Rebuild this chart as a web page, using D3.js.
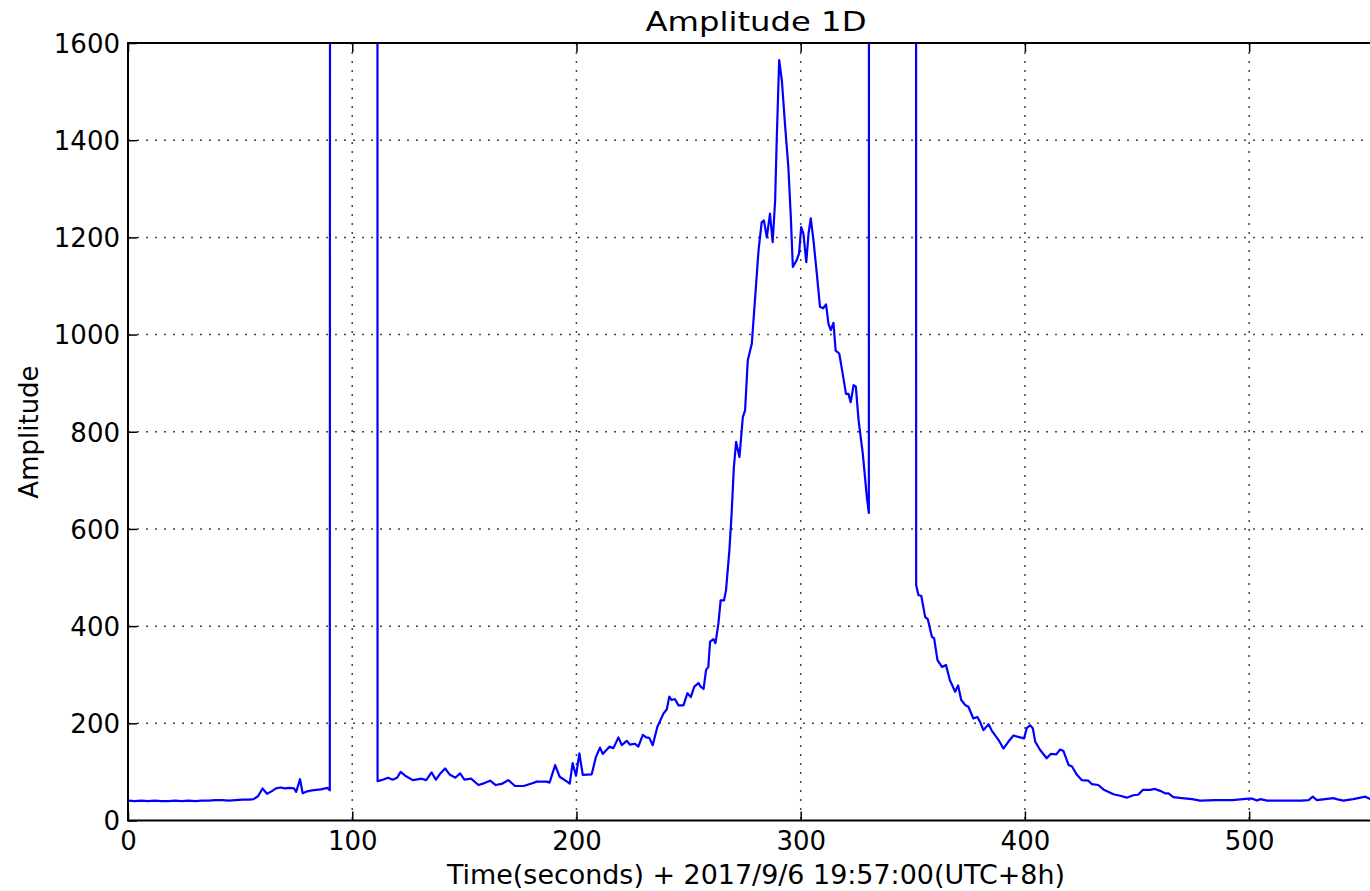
<!DOCTYPE html>
<html><head><meta charset="utf-8">
<script src="https://cdn.jsdelivr.net/npm/d3@7"></script>
<style>
html,body{margin:0;padding:0;background:#fff;overflow:hidden;}
text{font-family:"DejaVu Sans",sans-serif;fill:#000;}
</style></head>
<body>
<svg id="chart" width="1370" height="891"></svg>
<script>
const title = "Amplitude 1D";
const xLabel = "Time(seconds) + 2017/9/6 19:57:00(UTC+8h)";
const yLabel = "Amplitude";
const xTicks = [0, 100, 200, 300, 400, 500];
const yTicks = [0, 200, 400, 600, 800, 1000, 1200, 1400, 1600];

// time (s) and amplitude; 10000 = off-scale (saturated) samples
const times = [0,3,6,9,12,15,18,21,24,27,30,33,36,39,42,45,48,51,54,56,58,60,62,64,66,68,70,72,74,75,76.7,77.9,80,82,84,86,88,89,90,90.5,111,111.3,113,116,118,120,121.6,124,127,131,133,135.4,137.3,139,141.4,143.6,146,148.1,150,153,156.3,159,161.5,164,167,169.6,172.6,176.4,180,182.3,186.8,188,190.5,192.5,195.8,197,198.3,199.8,201.3,202.8,206.8,208.7,210.5,211.7,214.7,216.5,218.7,220.2,222.4,223.9,226.1,227.6,229.6,231.1,232.5,234,236.1,238.8,240.3,241.4,242.4,243.9,245.5,247.7,249.5,251,252.5,254.4,255.5,256.7,257.8,258.8,259.6,261.1,262,263.3,264.3,265.8,266.7,268.2,269.2,270.2,271.2,272.7,274.2,275.2,276.4,278.2,279.7,281.2,282.6,283.6,284.9,286.3,287.5,288.6,289.3,290.4,291.6,293.1,294.5,295.6,296.5,298.2,299.3,300.2,301.2,302.5,303.5,304.5,305.7,307.2,308.6,310,311.3,312.4,313.4,314.6,315.6,317.2,318.7,320.2,321.3,322.3,323.6,324.6,325.8,327.7,329.5,330.4,330.8,351.2,351.5,352.5,353.8,355.5,356.7,358.5,359.5,361,363,364.8,366.5,368.9,370.2,371.6,373.5,374.8,377,378.8,380,381.5,383.8,385.2,388.2,390.4,392.6,394.9,397,399.6,400.8,402.3,403.5,404.6,406.8,409.7,411.5,414,415.7,417.2,419.5,421,423.2,425.4,428.3,429.8,432.7,435,439.5,442.5,445.4,448.3,450.5,452.6,455.8,458,460.3,462.5,464,466.2,470,474.6,478.1,485,492.5,499.7,501.2,503.5,505,508,515,523,526.5,528.4,530.2,537.6,539,542,546.4,551.8,554,558];
const amplitudes = [41,40,41,40,41,40,40,41,40,41,40,41,41,42,42,41,42,43,43,44,50,66,55,60,66,68,66,67,66,59,85,56,60,62,63,64,66,67,62,10000,10000,81,83,88,84,88,100,91,83,86,83,99,84,95,107,94,88,97,84,86,73,77,82,73,76,83,71,71,76,80,80,78,114,90,80,76,118,92,138,94,95,131,150,137,152,149,171,155,164,156,158,152,176,171,170,155,193,220,229,255,248,250,237,237,262,254,275,283,275,271,310,316,368,373,365,405,453,453,474,556,632,727,779,748,830,844,947,981,1077,1173,1231,1235,1200,1249,1190,1276,1399,1565,1523,1427,1344,1242,1139,1153,1167,1221,1208,1149,1208,1239,1194,1125,1057,1054,1062,1022,1009,1024,967,961,920,878,878,861,896,893,824,755,666,633,10000,10000,484,464,462,419,414,378,375,330,316,320,289,265,278,248,237,234,210,213,203,186,198,185,166,148,162,175,172,169,190,196,190,162,145,128,137,136,146,143,114,111,94,83,82,75,73,64,54,51,47,52,53,63,63,65,61,56,56,48,46,44,41,42,42,45,45,41,44,41,41,41,42,49,42,46,44,41,44,49,44,43];

const svg = d3.select("#chart");
const L = 128, T = 43, B = 820.5, pxPerSec = 2.2423;
const xMax = 560;
const R = L + xMax * pxPerSec;

const x = d3.scaleLinear().domain([0, xMax]).range([L, R]);
const y = d3.scaleLinear().domain([0, 1600]).range([B, T]);

svg.append("defs").append("clipPath").attr("id","clip")
  .append("rect").attr("x", L).attr("y", T).attr("width", R - L).attr("height", B - T);

// grid
const grid = svg.append("g");
grid.selectAll(".gx").data(xTicks.filter(d => d > 0)).enter().append("line")
  .attr("x1", d => x(d)).attr("x2", d => x(d)).attr("y1", T).attr("y2", B)
  .attr("stroke", "#444").attr("stroke-width", 1.5).attr("stroke-dasharray", "2,7");
grid.selectAll(".gy").data(yTicks.filter(d => d > 0 && d < 1600)).enter().append("line")
  .attr("x1", L).attr("x2", R).attr("y1", d => y(d)).attr("y2", d => y(d))
  .attr("stroke", "#444").attr("stroke-width", 1.5).attr("stroke-dasharray", "2,7");

// data line
const pts = times.map((t, i) => [t, amplitudes[i]]);
svg.append("path").datum(pts)
  .attr("clip-path", "url(#clip)")
  .attr("fill", "none").attr("stroke", "#0000ff").attr("stroke-width", 2.2)
  .attr("stroke-linejoin", "round")
  .attr("d", d3.line().x(d => x(d[0])).y(d => y(d[1])));

// axes (inward ticks, matplotlib classic)
const tickLen = 9;
const xAxisB = d3.axisBottom(x).tickValues(xTicks).tickSize(-tickLen).tickPadding(11).tickFormat(d3.format("d"));
const gxb = svg.append("g").attr("transform", `translate(0,${B})`).call(xAxisB);
const xAxisT = d3.axisTop(x).tickValues(xTicks).tickSize(-tickLen).tickFormat("");
const gxt = svg.append("g").attr("transform", `translate(0,${T})`).call(xAxisT);
const yAxisL = d3.axisLeft(y).tickValues(yTicks).tickSize(-tickLen).tickPadding(8).tickFormat(d3.format("d"));
const gyl = svg.append("g").attr("transform", `translate(${L},0)`).call(yAxisL);

[gxb, gxt, gyl].forEach(g => {
  g.select(".domain").remove();
  g.selectAll(".tick line").attr("stroke", "#000").attr("stroke-width", 1.5);
  g.selectAll(".tick text").attr("font-size", 26).attr("font-family", "DejaVu Sans").attr("fill", "#000");
});
gxb.selectAll(".tick text").attr("dy", "0.73em");
gyl.selectAll(".tick text").attr("dy", "0.36em");

// frame
svg.append("path").attr("fill", "none").attr("stroke", "#000").attr("stroke-width", 2)
  .attr("d", `M${R},${T}H${L}V${B}H${R}`);

// title & labels
svg.append("text").attr("x", 756).attr("y", 31).attr("text-anchor", "middle")
  .attr("font-size", 27).attr("textLength", 221).attr("lengthAdjust", "spacingAndGlyphs").text(title);
svg.append("text").attr("x", 756).attr("y", 884).attr("text-anchor", "middle")
  .attr("font-size", 26).attr("textLength", 618).attr("lengthAdjust", "spacingAndGlyphs").text(xLabel);
svg.append("text").attr("transform", "translate(38,432) rotate(-90)").attr("text-anchor", "middle")
  .attr("font-size", 26).text(yLabel);
</script>
</body></html>
